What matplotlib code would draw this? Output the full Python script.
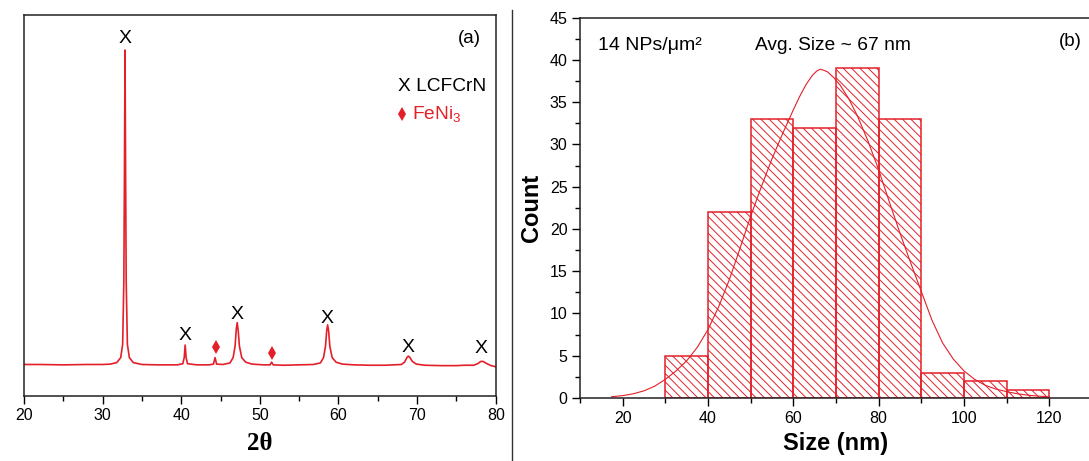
import matplotlib
matplotlib.use("Agg")
import matplotlib.pyplot as plt
from matplotlib.lines import Line2D
from matplotlib.ticker import MultipleLocator

# ---------------- data ----------------
# XRD pattern (a): points (2theta, intensity a.u.)
xrd_2theta = [20.0, 22.0, 25.0, 28.0, 30.0, 31.0, 31.8, 32.3, 32.55, 32.7, 32.78, 32.85,
              32.92, 33.0, 33.15, 33.4, 33.9, 35.0, 37.0, 39.5, 40.2, 40.38, 40.5, 40.62,
              40.8, 42.0, 43.5, 44.1, 44.3, 44.5, 45.3, 46.2, 46.6, 46.85, 47.0, 47.12,
              47.25, 47.4, 47.7, 48.2, 49.0, 50.5, 51.3, 51.5, 51.7, 53.0, 55.0, 56.8,
              57.7, 58.1, 58.35, 58.5, 58.62, 58.75, 58.9, 59.2, 59.7, 60.5, 62.0, 64.0,
              66.0, 68.0, 68.4, 68.7, 68.9, 69.1, 69.4, 69.9, 71.0, 73.0, 75.0, 76.0,
              77.2, 77.7, 78.1, 78.4, 78.8, 79.4, 80.0]
xrd_intensity = [8.2, 8.2, 8.1, 8.2, 8.2, 8.3, 8.7, 10.0, 13.5, 30.0, 60.0, 90.8,
                 60.0, 30.0, 13.5, 10.0, 8.7, 8.2, 8.1, 8.1, 8.4, 10.0, 13.3, 10.0,
                 8.4, 8.1, 8.1, 8.3, 10.0, 8.3, 8.2, 8.6, 10.0, 13.0, 17.5, 19.2,
                 17.0, 13.0, 10.0, 8.8, 8.3, 8.1, 8.1, 8.8, 8.1, 8.0, 8.1, 8.2,
                 8.6, 10.0, 13.0, 17.0, 18.6, 17.0, 13.0, 10.0, 8.8, 8.3, 8.1, 8.0,
                 8.0, 8.2, 8.8, 10.0, 10.4, 10.0, 9.0, 8.3, 8.0, 7.9, 7.9, 8.0,
                 8.0, 8.4, 9.0, 9.0, 8.5, 7.9, 7.6]
lcfcrn_pos = [32.8, 40.5, 47.1, 58.6, 68.9, 78.1]
lcfcrn_lab_y = [93.7, 15.7, 21.2, 20.3, 12.6, 12.3]
feni3_pos = [44.4, 51.6]
feni3_lab_y = [12.7, 11.1]

# Size histogram (b)
bin_edges = [30, 40, 50, 60, 70, 80, 90, 100, 110, 120]
counts = [5, 22, 33, 32, 39, 33, 3, 2, 1]
# Gaussian fit curve: points
fit_x = [17.4, 20, 22.5, 25, 27.5, 30, 32.5, 35, 37.5, 40, 42.5, 45, 47.5, 50, 52.5,
         55, 57.5, 60, 61.5, 63, 64.5, 65.5, 66.3, 67, 68, 69.5, 71, 73, 75, 77.5, 80,
         82.5, 85, 87.5, 90, 92.5, 95, 97.5, 100, 102.5, 105, 107.5, 110, 112.5, 115,
         117.5, 120]
fit_y = [0.15, 0.28, 0.5, 0.85, 1.4, 2.2, 3.2, 4.4, 6.0, 8.1, 10.8, 14.0, 17.7,
         21.5, 25.0, 28.3, 31.3, 34.1, 35.7, 37.1, 38.2, 38.7, 38.9, 38.8, 38.6, 37.9,
         37.0, 35.4, 33.4, 30.4, 27.0, 23.2, 19.5, 16.0, 12.6, 9.2, 6.5, 4.6, 3.2,
         2.2, 1.5, 1.05, 0.75, 0.5, 0.33, 0.22, 0.14]

RED = "#e3202a"

plt.rcParams["font.family"] = ["Liberation Sans", "DejaVu Sans"]
plt.rcParams["mathtext.fontset"] = "custom"
plt.rcParams["mathtext.rm"] = "Liberation Sans"
plt.rcParams["mathtext.it"] = "Liberation Sans:italic"
plt.rcParams["hatch.color"] = RED
plt.rcParams["hatch.linewidth"] = 0.7

W, H = 1089, 461
fig = plt.figure(figsize=(W / 100, H / 100), dpi=100)
fig.patch.set_facecolor("white")

# ---------------- panel (a) ----------------
axa = fig.add_axes([24 / W, 1 - 395.7 / H, 471.7 / W, 380.7 / H])
axa.plot(xrd_2theta, xrd_intensity, color=RED, lw=1.2)
axa.set_xlim(20, 80)
axa.set_ylim(0, 100)
axa.set_yticks([])
axa.xaxis.set_major_locator(MultipleLocator(10))
axa.xaxis.set_minor_locator(MultipleLocator(5))
axa.tick_params(axis="x", which="major", direction="out", length=6, width=1,
                labelsize=11.5, pad=3)
axa.tick_params(axis="x", which="minor", direction="out", length=3.5, width=1)
for s in axa.spines.values():
    s.set_linewidth(1.1)
    s.set_color("#222222")
axa.set_xlabel("2θ", family=["Liberation Serif", "DejaVu Serif"], fontweight="bold",
               fontsize=18, labelpad=6)

for x, y in zip(lcfcrn_pos, lcfcrn_lab_y):
    axa.text(x, y, "X", ha="center", va="center", fontsize=14, color="black")
axa.plot(feni3_pos, feni3_lab_y, linestyle="none", marker="d", markersize=7.5,
         color=RED, markeredgewidth=0)

axa.text(0.945, 0.937, "(a)", transform=axa.transAxes, ha="center", va="center",
         fontsize=13.5)
axa.text(398 / W, 1 - 86.7 / H, "X LCFCrN", transform=fig.transFigure, ha="left",
         va="center", fontsize=13.8, color="black")
fig.lines.append(Line2D([401.7 / W], [1 - 114 / H], transform=fig.transFigure,
                        marker="d", markersize=7.5, color=RED, markeredgewidth=0,
                        linestyle="none"))
axa.text(412 / W, 1 - 114 / H, "FeNi$_3$", transform=fig.transFigure, ha="left",
         va="center", fontsize=13.8, color=RED)

# ---------------- panel (b) ----------------
axb = fig.add_axes([580 / W, 1 - 398 / H, 512 / W, 380.3 / H])
widths = [bin_edges[i + 1] - bin_edges[i] for i in range(len(counts))]
axb.bar(bin_edges[:-1], counts, width=widths, align="edge", facecolor="none",
        edgecolor=RED, linewidth=1.1, hatch="\\\\\\\\")
axb.plot(fit_x, fit_y, color=RED, lw=0.8)
axb.set_xlim(10, 130)
axb.set_ylim(0, 45)
axb.xaxis.set_major_locator(MultipleLocator(20))
axb.xaxis.set_minor_locator(MultipleLocator(10))
axb.yaxis.set_major_locator(MultipleLocator(5))
axb.yaxis.set_minor_locator(MultipleLocator(2.5))
axb.tick_params(which="major", direction="out", length=6, width=1, labelsize=11.5,
                pad=3)
axb.tick_params(which="minor", direction="out", length=3.5, width=1)
axb.spines["right"].set_visible(False)
for s in axb.spines.values():
    s.set_linewidth(1.1)
    s.set_color("#222222")
axb.set_xlabel("Size (nm)", fontsize=17, fontweight="bold", labelpad=5)
axb.set_ylabel("Count", fontsize=17, fontweight="bold", labelpad=5)

axb.text(598 / W, 1 - 45 / H, "14 NPs/μm²", transform=fig.transFigure, ha="left",
         va="center", fontsize=14)
axb.text(755 / W, 1 - 45 / H, "Avg. Size ~ 67 nm", transform=fig.transFigure,
         ha="left", va="center", fontsize=13.8)
axb.text(1070.7 / W, 1 - 41.7 / H, "(b)", transform=fig.transFigure, ha="center",
         va="center", fontsize=13.5)

# separator line between panels
fig.lines.append(Line2D([511.5 / W, 511.5 / W], [0, 1 - 10 / H],
                        transform=fig.transFigure, color="#333333", lw=1))

fig.savefig("out.png", dpi=100, facecolor="white")
